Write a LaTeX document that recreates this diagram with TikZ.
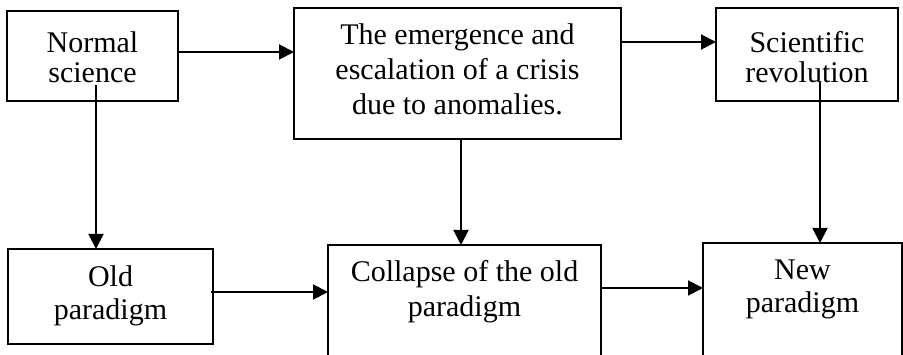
\documentclass[tikz,border=0pt]{standalone}
\usepackage{fontspec}
\setmainfont{Liberation Serif}
\usetikzlibrary{arrows.meta}
\newcommand{\topgap}[1]{\rule{0pt}{#1}}
\newcommand{\botgap}[1]{\rule[-#1]{0pt}{0pt}}

\begin{document}
\begin{tikzpicture}[
  x=1pt, y=1pt,
  font=\fontsize{30}{34}\selectfont,
  stage/.style={draw, line width=1.9pt, align=center, anchor=north west,
                inner xsep=0pt, inner ysep=0pt, outer sep=0pt},
  arr/.style={-{Triangle[length=15pt,width=15pt]}, line width=1.9pt}
]
\useasboundingbox (0,0) rectangle (903,-355);
\clip (0,0) rectangle (903,-355);
% top row
\node[stage, minimum width=171pt] (ns) at (7,-11)
      {\topgap{42pt}Normal\\[-4pt]science\botgap{18pt}};
\node[stage, minimum width=327pt] (crisis) at (294,-8)
      {\topgap{37pt}The emergence and\\[1pt]escalation of a crisis\\[1pt]due to anomalies.\botgap{24pt}};
\node[stage, minimum width=182pt] (sr) at (716,-8)
      {\topgap{45pt}Scientific\\[-4pt]revolution\botgap{18pt}};
% bottom row
\node[stage, minimum width=205pt] (old) at (8,-249)
      {\topgap{38pt}Old\\[-1pt]paradigm\botgap{24pt}};
\node[stage, minimum width=273pt] (collapse) at (328,-245)
      {\topgap{37pt}Collapse of the old\\[1pt]paradigm\botgap{60pt}};
\node[stage, minimum width=199pt] (new) at (703,-243)
      {\topgap{37pt}New\\[-1pt]paradigm\botgap{60pt}};
% arrows along the top
\coordinate (a1) at ([yshift=4pt]ns.east);
\draw[arr] (a1) -- (a1 -| crisis.west);
\coordinate (a2) at ([yshift=12.5pt]sr.west);
\draw[arr] (a2 -| crisis.east) -- (a2);
% arrows down
\coordinate (a3) at ([xshift=3.5pt,yshift=16pt]ns.south);
\draw[arr] (a3) -- (a3 |- old.north);
\coordinate (a4) at ([xshift=3.5pt]crisis.south);
\draw[arr] (a4) -- (a4 |- collapse.north);
\coordinate (a5) at ([xshift=13pt,yshift=19pt]sr.south);
\draw[arr] (a5) -- (a5 |- new.north);
% arrows along the bottom
\coordinate (a6) at ([xshift=-2pt,yshift=4.5pt]old.east);
\draw[arr] (a6) -- (a6 -| collapse.west);
\coordinate (a7) at ([yshift=23pt]collapse.east);
\draw[arr] (a7) -- (a7 -| new.west);
\end{tikzpicture}
\end{document}
